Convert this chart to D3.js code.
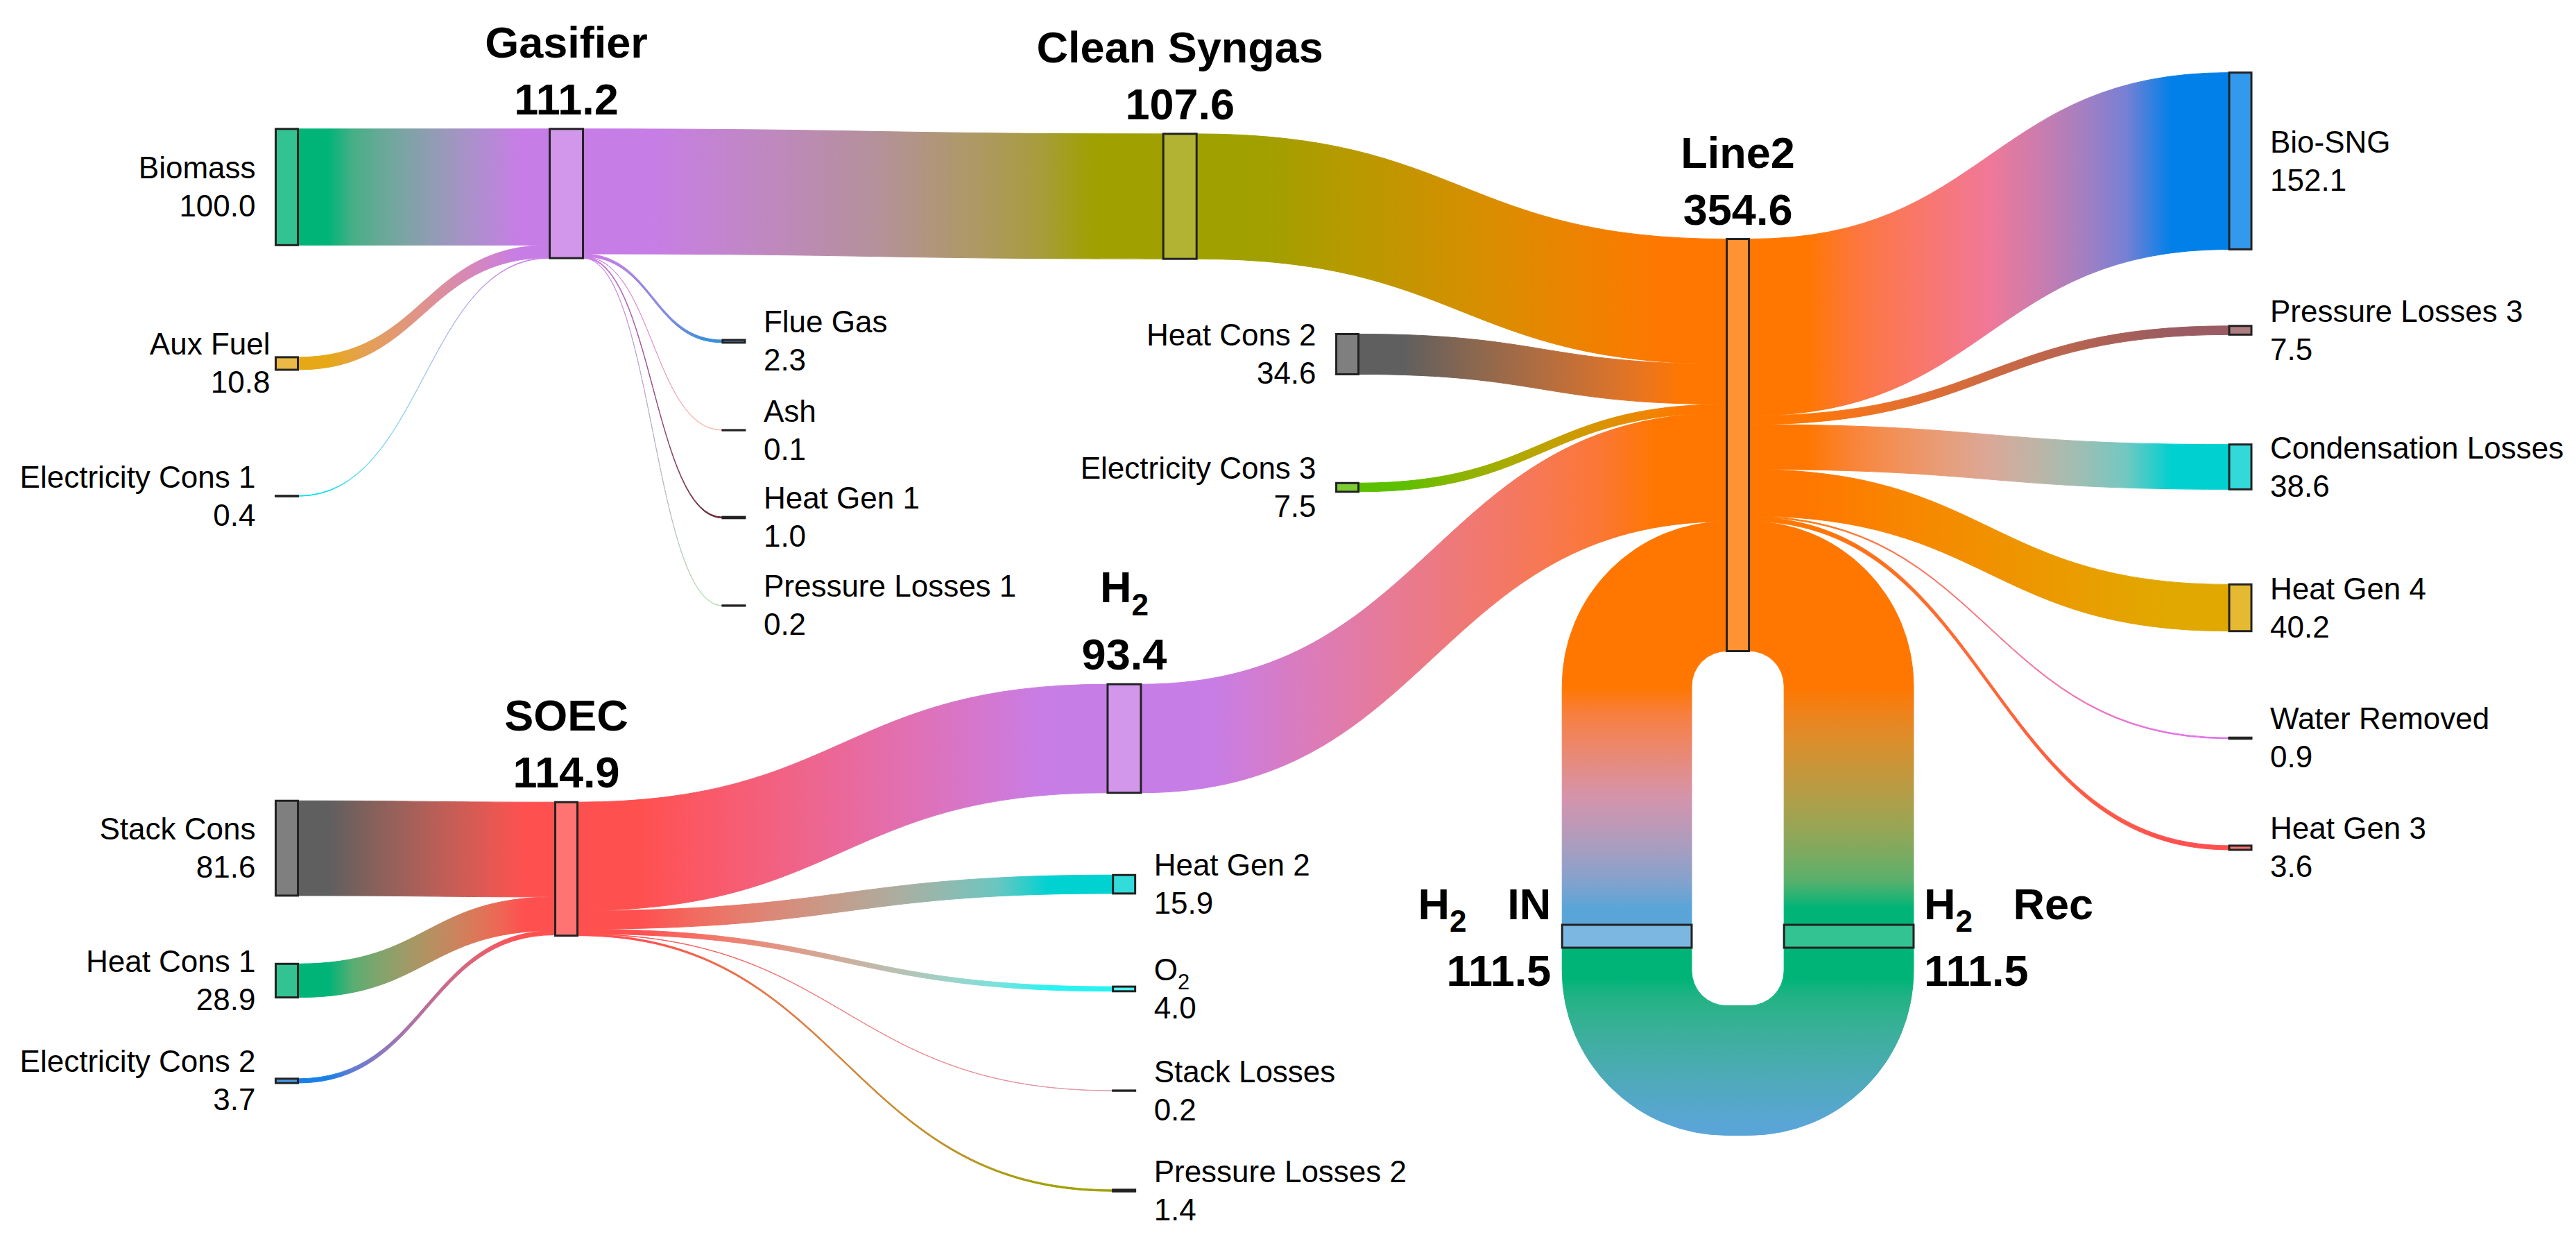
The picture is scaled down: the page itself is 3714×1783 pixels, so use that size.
<!DOCTYPE html>
<html>
<head>
<meta charset="utf-8">
<script src="https://cdn.jsdelivr.net/npm/d3@7"></script>
<style>
  body { margin: 0; background: #fff; }
  svg { display: block; font-family: "Liberation Sans", Arial, sans-serif; }
</style>
</head>
<body>
<script>
// ---- data ----
const nodeNames = ["Biomass", "Aux Fuel", "Electricity Cons 1", "Gasifier", "Flue Gas", "Ash", "Heat Gen 1",
  "Pressure Losses 1", "Clean Syngas", "Heat Cons 2", "Electricity Cons 3", "Line2", "Stack Cons", "Heat Cons 1",
  "Electricity Cons 2", "SOEC", "H2", "Heat Gen 2", "O2", "Stack Losses", "Pressure Losses 2", "Bio-SNG",
  "Pressure Losses 3", "Condensation Losses", "Heat Gen 4", "Water Removed", "Heat Gen 3", "H2 IN", "H2 Rec"]

const linkSource = ["Biomass", "Aux Fuel", "Electricity Cons 1", "Gasifier", "Gasifier", "Gasifier", "Gasifier", "Gasifier",
  "Clean Syngas", "Heat Cons 2", "Electricity Cons 3", "H2", "H2 IN",
  "Stack Cons", "Heat Cons 1", "Electricity Cons 2", "SOEC", "SOEC", "SOEC", "SOEC", "SOEC",
  "Line2", "Line2", "Line2", "Line2", "Line2", "Line2", "Line2", "H2 Rec"]
const linkTarget = ["Gasifier", "Gasifier", "Gasifier", "Clean Syngas", "Flue Gas", "Ash", "Heat Gen 1", "Pressure Losses 1",
  "Line2", "Line2", "Line2", "Line2", "Line2",
  "SOEC", "SOEC", "SOEC", "H2", "Heat Gen 2", "O2", "Stack Losses", "Pressure Losses 2",
  "Bio-SNG", "Pressure Losses 3", "Condensation Losses", "Heat Gen 4", "Water Removed", "Heat Gen 3", "H2 Rec", "H2 IN"]
const linkValue = [100.0, 10.8, 0.4, 107.6, 2.3, 0.1, 1.0, 0.2,
  107.6, 34.6, 7.5, 93.4, 111.5,
  81.6, 28.9, 3.7, 93.4, 15.9, 4.0, 0.2, 1.4,
  152.1, 7.5, 38.6, 40.2, 0.9, 3.6, 111.5, 111.5]

// ---- arrangement (like plotly node.x / node.y, fractions of the plot area) ----
const arrangeX = {"Biomass": 0, "Aux Fuel": 0, "Electricity Cons 1": 0, "Stack Cons": 0, "Heat Cons 1": 0, "Electricity Cons 2": 0,
  "Gasifier": 0.1431, "SOEC": 0.1431,
  "Flue Gas": 0.2288, "Ash": 0.2288, "Heat Gen 1": 0.2288, "Pressure Losses 1": 0.2288,
  "H2": 0.4287, "Heat Gen 2": 0.4286, "O2": 0.4286, "Stack Losses": 0.4286, "Pressure Losses 2": 0.4286,
  "Clean Syngas": 0.4572, "Heat Cons 2": 0.5429, "Electricity Cons 3": 0.5429,
  "H2 IN": 0.686, "Line2": 0.7428, "H2 Rec": 0.7996,
  "Bio-SNG": 1, "Pressure Losses 3": 1, "Condensation Losses": 1, "Heat Gen 4": 1, "Water Removed": 1, "Heat Gen 3": 1}
const arrangeY = {"Biomass": 0.1034, "Aux Fuel": 0.2585, "Electricity Cons 1": 0.375, "Gasifier": 0.1091,
  "Flue Gas": 0.239, "Ash": 0.3171, "Heat Gen 1": 0.3939, "Pressure Losses 1": 0.4713,
  "Clean Syngas": 0.1116, "Heat Cons 2": 0.2503, "Electricity Cons 3": 0.3674, "Line2": 0.3302,
  "Stack Cons": 0.6845, "Heat Cons 1": 0.8009, "Electricity Cons 2": 0.889, "SOEC": 0.7027,
  "H2": 0.5881, "Heat Gen 2": 0.7162, "O2": 0.8082, "Stack Losses": 0.8976, "Pressure Losses 2": 0.9854,
  "Bio-SNG": 0.0805, "Pressure Losses 3": 0.2293, "Condensation Losses": 0.3494, "Heat Gen 4": 0.4732,
  "Water Removed": 0.5878, "Heat Gen 3": 0.6841, "H2 IN": 0.7619, "H2 Rec": 0.7619}

// ---- styles ----
const nodeColor = {"Biomass": "#00b478", "Aux Fuel": "#e6a817", "Electricity Cons 1": "#00e0e8", "Gasifier": "#c77de6",
  "Flue Gas": "#3a8fd8", "Ash": "#ffb3a0", "Heat Gen 1": "#6e2a3a", "Pressure Losses 1": "#a8e0a8",
  "Clean Syngas": "#a0a000", "Heat Cons 2": "#5f5f5f", "Electricity Cons 3": "#5cbf00", "Line2": "#ff7700",
  "Stack Cons": "#5f5f5f", "Heat Cons 1": "#00b478", "Electricity Cons 2": "#1a7fe6", "SOEC": "#ff5050",
  "H2": "#c77de6", "Heat Gen 2": "#00d2d2", "O2": "#2af2f2", "Stack Losses": "#e09aa8", "Pressure Losses 2": "#a0a000",
  "Bio-SNG": "#0080e8", "Pressure Losses 3": "#9a5c62", "Condensation Losses": "#00d0d0", "Heat Gen 4": "#e0a800",
  "Water Removed": "#e070e8", "Heat Gen 3": "#ff5050", "H2 IN": "#5aa5d8", "H2 Rec": "#00b478"}
// extra colour that some gradients pass through
const linkMid = {"Line2>Bio-SNG": "#f07898", "H2 IN>Line2": "#d494ac", "Line2>Condensation Losses": "#dba898",
  "Gasifier>Clean Syngas": "#b4919c", "Electricity Cons 1>Gasifier": "#a0c8f0"}
const titleNodes = ["Gasifier", "Clean Syngas", "Line2", "SOEC", "H2"]
const wideNodes = ["Gasifier", "Clean Syngas", "H2"]
const flatNodes = ["H2 IN", "H2 Rec"]
const rightLabel = ["Flue Gas", "Ash", "Heat Gen 1", "Pressure Losses 1", "Heat Gen 2", "O2", "Stack Losses",
  "Pressure Losses 2", "Bio-SNG", "Pressure Losses 3", "Condensation Losses", "Heat Gen 4", "Water Removed", "Heat Gen 3", "H2 Rec"]
const labelNudge = {"Aux Fuel": 21}

let w = 3714
let h = 1783
const nodeW = 32, wideW = 48, thick = 33
let fmt = d3.format(".1f")

let svg = d3.select("body").append("svg").attr("width", w).attr("height", h)
svg.append("rect").attr("width", w).attr("height", h).attr("fill", "#fff")
let defs = svg.append("defs")

// nodes and links
let nodes = nodeNames.map(name => ({name, inV: 0, outV: 0, ins: [], outs: []}))
let byName = new Map(nodes.map(n => [n.name, n]))
let links = linkSource.map((s, i) => ({source: byName.get(s), target: byName.get(linkTarget[i]), value: linkValue[i]}))
links.forEach(l => {
  l.source.outV += l.value; l.source.outs.push(l)
  l.target.inV += l.value; l.target.ins.push(l)
})
nodes.forEach(n => n.value = Math.max(n.inV, n.outV))

let xScale = d3.scaleLinear().domain([0, 1]).range([413.5, 3230])
let yScale = d3.scaleLinear().domain([0, 1]).range([100, 1740])
let vScale = d3.scaleLinear().domain([0, d3.max(nodes, n => n.value)]).range([0, 594])

nodes.forEach(n => {
  n.cx = xScale(arrangeX[n.name])
  n.cy = yScale(arrangeY[n.name])
  n.flat = flatNodes.includes(n.name)
  let len = vScale(n.value)
  if (n.flat) {
    n.x0 = n.cx - len / 2; n.x1 = n.cx + len / 2
    n.y0 = n.cy - thick / 2; n.y1 = n.cy + thick / 2
  } else {
    let nw = wideNodes.includes(n.name) ? wideW : nodeW
    n.x0 = n.cx - nw / 2; n.x1 = n.cx + nw / 2
    n.y0 = n.cy - len / 2; n.y1 = n.cy + len / 2
  }
})
nodes.forEach(n => {
  let y = n.y0
  n.outs.sort((a, b) => a.target.cy - b.target.cy)
  n.outs.forEach(l => { l.sy0 = y; y += vScale(l.value); l.sy1 = y })
  y = n.y0
  n.ins.sort((a, b) => a.source.cy - b.source.cy)
  n.ins.forEach(l => { l.ty0 = y; y += vScale(l.value); l.ty1 = y })
})

function linkShape(l) {
  let s = l.source, t = l.target
  if (s.flat && t.flat) {
    // recycle loop under the two flat nodes
    let r = (s.x0 - t.x1 - nodeW) / 2
    let R = r + vScale(l.value)
    let yb = s.y1 + thick
    return {
      d: `M${s.x1},${s.y1}L${s.x1},${yb}A${R},${R} 0 0 1 ${s.x1 - R},${yb + R}L${t.x0 + R},${yb + R}` +
         `A${R},${R} 0 0 1 ${t.x0},${yb}L${t.x0},${t.y1}L${t.x1},${t.y1}L${t.x1},${yb}` +
         `A${r},${r} 0 0 0 ${t.x1 + r},${yb + r}L${s.x0 - r},${yb + r}A${r},${r} 0 0 0 ${s.x0},${yb}L${s.x0},${s.y1}Z`,
      g: [0, yb, 0, yb + R], stops: [0.05, 0.95]
    }
  }
  if (s.flat) {
    let R = t.x0 - s.x0, r = t.x0 - s.x1
    return {
      d: `M${s.x0},${s.y0}L${s.x0},${l.ty0 + R}A${R},${R} 0 0 1 ${t.x0},${l.ty0}L${t.x0},${l.ty1}` +
         `A${r},${r} 0 0 0 ${s.x1},${l.ty1 + r}L${s.x1},${s.y0}Z`,
      g: [0, s.y0, 0, l.ty1], stops: [0.06, 0.87]
    }
  }
  if (t.flat) {
    let R = t.x1 - s.x1, r = t.x0 - s.x1
    return {
      d: `M${s.x1},${l.sy0}A${R},${R} 0 0 1 ${t.x1},${l.sy0 + R}L${t.x1},${t.y0}L${t.x0},${t.y0}` +
         `L${t.x0},${l.sy1 + r}A${r},${r} 0 0 0 ${s.x1},${l.sy1}Z`,
      g: [0, l.sy1, 0, t.y0], stops: [0.13, 0.94]
    }
  }
  let x0 = s.x1, x1 = t.x0, xm = (x0 + x1) / 2
  return {
    d: `M${x0},${l.sy0}C${xm},${l.sy0} ${xm},${l.ty0} ${x1},${l.ty0}L${x1},${l.ty1}` +
       `C${xm},${l.ty1} ${xm},${l.sy1} ${x0},${l.sy1}Z`,
    g: [x0, 0, x1, 0], stops: [0.12, 0.88]
  }
}

links.forEach((l, i) => {
  let sh = linkShape(l)
  l.d = sh.d
  l.gid = "lg" + i
  let key = l.source.name + ">" + l.target.name
  let cols = [nodeColor[l.source.name]].concat(linkMid[key] ? [linkMid[key]] : [], [nodeColor[l.target.name]])
  let interp = d3.piecewise(d3.interpolateLab, cols)
  let [a, b] = sh.stops
  let stops = [[0, 0]].concat(d3.range(9).map(j => [a + (b - a) * j / 8, j / 8]), [[1, 1]])
  defs.append("linearGradient")
    .attr("id", l.gid)
    .attr("gradientUnits", "userSpaceOnUse")
    .attr("x1", sh.g[0]).attr("y1", sh.g[1]).attr("x2", sh.g[2]).attr("y2", sh.g[3])
    .selectAll("stop")
    .data(stops)
    .join("stop")
    .attr("offset", d => d[0])
    .attr("stop-color", d => interp(d[1]))
})

svg.append("g")
  .selectAll("path")
  .data(links.slice().sort((a, b) => b.value - a.value))
  .join("path")
  .attr("d", d => d.d)
  .attr("fill", d => `url(#${d.gid})`)
  .attr("stroke", d => `url(#${d.gid})`)
  .attr("stroke-width", 1)

svg.append("g")
  .selectAll("rect")
  .data(nodes)
  .join("rect")
  .attr("x", d => d.x0)
  .attr("y", d => d.y0)
  .attr("width", d => d.x1 - d.x0)
  .attr("height", d => Math.max(0.2, d.y1 - d.y0))
  .attr("fill", d => d3.interpolateRgb(nodeColor[d.name], "#fff")(0.2))
  .attr("stroke", "#222")
  .attr("stroke-width", 3)

// label with subscript 2 for H2 / O2
function nameText(sel, name, size) {
  let m = name.match(/^([HO])2(.*)$/)
  if (!m) { sel.text(name); return }
  sel.append("tspan").text(m[1])
  sel.append("tspan").attr("font-size", size * 0.7).attr("dy", size * 0.29).text("2")
  if (m[2]) sel.append("tspan").attr("dy", -size * 0.29).attr("dx", size * 0.93).text(m[2].trim())
}

let labels = svg.append("g").attr("fill", "#000")
nodes.forEach(n => {
  let big = 63, small = 44
  if (titleNodes.includes(n.name)) {
    let sub = /^[HO]2/.test(n.name) ? 15 : 0
    let t1 = labels.append("text").attr("x", n.cx).attr("y", n.y0 - 103 - sub)
      .attr("text-anchor", "middle").attr("font-weight", "bold").attr("font-size", big)
    nameText(t1, n.name, big)
    labels.append("text").attr("x", n.cx).attr("y", n.y0 - 21)
      .attr("text-anchor", "middle").attr("font-weight", "bold").attr("font-size", big)
      .text(fmt(n.value))
  } else if (n.flat) {
    let right = rightLabel.includes(n.name)
    let x = right ? n.x1 + 15 : n.x0 - 16
    let t1 = labels.append("text").attr("x", x).attr("y", n.y0 - 8)
      .attr("text-anchor", right ? "start" : "end").attr("font-weight", "bold").attr("font-size", big)
    nameText(t1, n.name, big)
    labels.append("text").attr("x", x).attr("y", n.y1 + 55)
      .attr("text-anchor", right ? "start" : "end").attr("font-weight", "bold").attr("font-size", big)
      .text(fmt(n.value))
  } else {
    let right = rightLabel.includes(n.name)
    let x = (right ? n.x1 + 27 : n.x0 - 29) + (labelNudge[n.name] || 0)
    let t1 = labels.append("text").attr("x", x).attr("y", n.cy - 12.5)
      .attr("text-anchor", right ? "start" : "end").attr("font-size", small)
    nameText(t1, n.name, small)
    labels.append("text").attr("x", x).attr("y", n.cy + 42.5)
      .attr("text-anchor", right ? "start" : "end").attr("font-size", small)
      .text(fmt(n.value))
  }
})
</script>
</body>
</html>
